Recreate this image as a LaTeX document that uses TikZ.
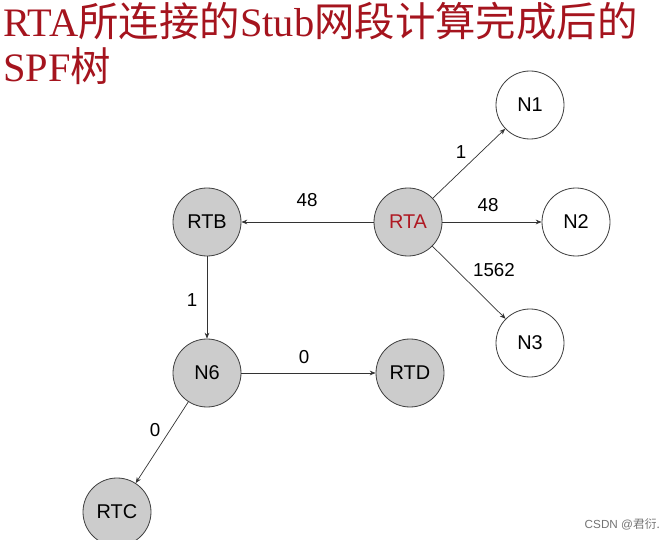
\documentclass[tikz,border=0pt]{standalone}
\usepackage{fontspec}
\setmainfont{Liberation Serif}
\setsansfont{Liberation Sans}
\newfontfamily\cjk{Noto Sans CJK SC}
\usetikzlibrary{arrows.meta}

\definecolor{titleRed}{RGB}{165,20,30}
\definecolor{rtaRed}{RGB}{175,25,35}
\definecolor{routerGray}{RGB}{204,204,204}

\def\nodeSize{2.04cm}

\tikzset{
    router/.style={circle, draw=black!75, line width=0.7pt, fill=routerGray, minimum size=\nodeSize, inner sep=0pt, font=\sffamily\fontsize{17}{17}\selectfont},
    net/.style={router, fill=white},
    link/.style={-{Stealth[length=5pt, width=4pt]}, draw=black!80, line width=0.6pt},
    cost/.style={font=\sffamily\fontsize{16}{16}\selectfont, inner sep=1pt}
}

\begin{document}
\begin{tikzpicture}[x=0.03cm, y=-0.03cm]

    \useasboundingbox (0,0) rectangle (670,540);

    % title
    \node[anchor=base west, inner sep=0, text=titleRed, font=\fontsize{34.5}{38}\selectfont] (title1) at (3,37) {RTA{\cjk 所连接的}Stub{\cjk 网段计算完成后的}};
    \node[anchor=base west, inner sep=0, text=titleRed, font=\fontsize{34.5}{38}\selectfont] (title2) at (3,82) {SPF{\cjk 树}};

    % routers
    \node[router, text=rtaRed] (rta) at (408,222) {RTA};
    \node[router] (rtb) at (207,222) {RTB};
    \node[router] (n6) at (207,373) {N6};
    \node[router] (rtd) at (410,373) {RTD};
    \node[router] (rtc) at (117,512) {RTC};

    % stub networks
    \node[net] (n1) at (530,105) {N1};
    \node[net] (n2) at (576,222) {N2};
    \node[net] (n3) at (530,343) {N3};

    % tree
    \draw[link] (rta) -- (rtb);
    \draw[link] (rta) -- (n1);
    \draw[link] (rta) -- (n2);
    \draw[link] (rta) -- (n3);
    \draw[link] (rtb) -- (n6);
    \draw[link] (n6) -- (rtd);
    \draw[link] (n6) -- (rtc);

    % costs
    \node[cost] (costB) at (307,200) {48};
    \node[cost] (cost1) at (461,152) {1};
    \node[cost] (cost2) at (488,205) {48};
    \node[cost] (cost3) at (494,270) {1562};
    \node[cost] (cost6) at (192,300) {1};
    \node[cost] (costD) at (304,357) {0};
    \node[cost] (costC) at (155,430) {0};

    % watermark
    \node[text=black!55, font=\sffamily\fontsize{10}{10}\selectfont, anchor=east, inner sep=0] (mark) at (660,524) {CSDN @{\cjk 君衍.}};

\end{tikzpicture}
\end{document}
